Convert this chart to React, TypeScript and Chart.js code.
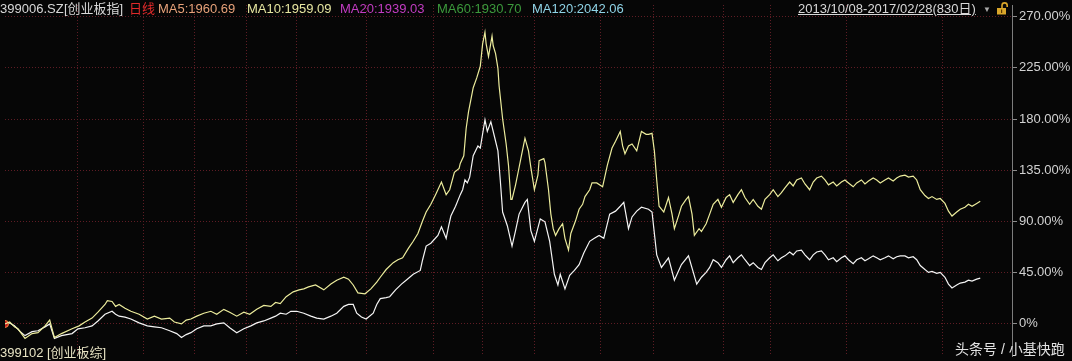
import React, { useEffect, useRef } from "react";
import { Chart, registerables } from "chart.js";

Chart.register(...registerables);

// 创业板指 399006 (white) – trading-day index and cumulative % change
const gemDays = [0,4,8,13,17,23,28,34,38,42,48,57,62,68,74,79,85,91,94,97,102,107,114,121,127,133,140,146,150,154,158,163,169,175,180,186,191,197,203,209,214,220,226,230,234,239,243,248,254,260,265,271,277,282,288,292,296,299,303,307,313,316,319,324,327,332,337,341,347,353,355,358,362,368,371,375,377,379,383,387,389,391,393,395,398,402,404,408,410,413,416,419,421,423,427,431,434,437,442,444,447,450,455,459,463,467,470,472,476,480,484,488,492,497,501,505,509,514,519,523,526,530,533,537,541,547,550,554,558,564,569,575,581,588,592,596,599,602,606,609,613,616,619,623,626,629,633,636,640,643,646,650,653,657,660,663,667,670,673,677,680,684,687,690,694,697,700,704,707,711,714,717,721,724,728,731,734,738,741,744,748,751,755,758,761,765,768,772,775,778,782,785,788,792,795,799,802,805,809,812,816,819,822,826,829];
const gemValues = [0,0.9,-1.7,-6.8,-10.3,-6.8,-6.0,-2.6,0,-12.8,-10.3,-8.5,-4.3,-3.4,-1.7,2.6,8.5,11.1,8.5,6.8,6.0,4.3,0.9,-1.7,-2.6,-3.4,-6.0,-8.5,-12.0,-9.4,-7.7,-4.3,-1.7,-1.7,0,0.9,-3.4,-7.7,-4.3,-1.7,0.9,2.6,5.1,6.8,9.4,8.5,11.1,11.1,9.4,6.8,5.1,4.3,6.8,9.4,15.4,17.1,17.1,9.4,6.0,4.3,9.4,17.1,22.2,23.1,23.9,29.9,35.0,38.4,43.6,47.0,56.4,68.4,70.9,77.8,85.4,75.2,85.4,94.8,103.4,113.6,117.9,126.5,123.9,129.0,147.8,156.4,154.6,179.4,169.2,177.7,164.9,152.1,126.5,98.3,86.3,68.4,82.0,96.5,106.8,109.4,82.0,72.6,92.3,89.7,72.6,43.6,34.2,43.6,30.8,42.7,47.0,52.1,62.4,72.6,75.2,77.8,75.2,96.5,99.1,103.4,106.8,83.7,94.0,99.1,102.5,100.8,98.3,60.7,49.6,58.1,38.4,52.1,59.8,35.0,41.0,45.3,49.6,56.4,53.8,49.6,56.4,59.8,53.8,58.1,60.7,56.4,51.3,53.8,49.6,47.8,53.8,58.1,60.7,55.5,58.1,59.8,63.2,60.7,64.1,64.9,60.7,56.4,60.7,63.2,64.1,60.7,56.4,58.1,54.7,58.1,59.8,56.4,53.0,56.4,58.1,55.5,57.2,59.8,58.1,56.4,58.1,59.8,57.2,59.0,59.8,59.8,58.1,59.0,56.4,51.3,47.8,45.3,46.1,44.4,45.3,41.0,35.0,31.6,34.2,35.9,36.7,38.4,37.6,39.3,40.2];

// 创业板综 399102 (yellow)
const compDays = [0,4,8,11,17,23,28,34,38,42,48,57,63,68,74,79,85,87,91,94,97,102,107,114,121,127,133,140,144,150,154,158,163,169,175,180,186,191,197,203,208,214,220,226,230,234,239,245,250,254,258,264,271,277,282,288,292,296,300,306,311,316,319,324,330,334,338,343,347,351,355,358,362,366,371,375,378,382,386,387,390,392,394,398,401,404,406,408,409,411,414,415,417,419,420,423,426,428,430,431,434,436,439,442,445,447,450,453,454,458,459,462,464,466,468,471,474,476,479,481,485,488,491,493,497,499,503,508,512,516,519,523,525,527,530,533,537,541,545,547,550,552,554,556,558,560,564,567,569,573,575,579,581,584,586,590,592,596,599,602,606,609,613,616,619,623,626,629,633,636,640,643,646,650,653,657,660,663,667,670,673,677,680,684,687,690,694,697,700,704,707,711,714,717,721,724,728,731,734,738,741,744,748,751,755,758,761,765,768,772,775,778,782,785,788,792,795,799,802,805,809,812,816,819,822,826,829];
const compValues = [0,1.7,-2.6,-4.3,-12.8,-8.5,-7.7,-1.7,3.4,-12.0,-8.5,-4.3,-1.7,1.7,5.1,10.3,17.1,20.5,19.7,15.4,17.1,13.7,11.1,8.5,4.3,6.8,4.3,5.1,1.7,0,3.4,4.3,6.8,9.4,11.1,8.5,12.8,10.3,6.8,10.3,8.5,12.8,16.2,15.4,18.8,17.9,23.9,28.2,29.9,30.8,32.5,34.2,29.9,35.0,38.4,41.0,39.3,34.2,27.3,26.5,30.8,36.7,41.0,47.8,53.8,56.4,58.1,66.6,72.6,79.5,90.6,98.3,105.1,113.6,124.7,113.6,117.9,133.3,136.7,141.0,147.8,171.7,186.3,207.6,216.2,226.4,246.1,256.3,246.1,235.0,252.9,244.4,237.5,224.7,209.3,180.3,158.1,139.3,109.4,109.4,122.2,132.4,147.8,163.2,152.1,137.6,117.9,130.7,143.5,145.2,141.8,117.9,96.5,83.7,77.8,83.7,88.0,75.2,64.9,79.5,90.6,100.8,105.1,111.9,117.9,123.9,123.9,120.5,139.3,154.6,160.6,169.2,156.4,149.5,156.4,158.1,152.1,169.2,166.6,166.6,167.5,152.1,126.5,103.4,100.8,98.3,111.1,96.5,83.7,96.5,103.4,109.4,111.9,96.5,77.8,83.7,81.2,88.0,96.5,105.1,109.4,102.5,111.1,113.6,106.8,113.6,117.9,111.1,105.1,109.4,103.4,100.8,109.4,113.6,117.9,111.9,115.3,119.6,124.7,121.3,126.5,128.2,123.0,117.9,124.7,128.2,129.9,126.5,122.2,124.7,121.3,124.7,126.5,123.9,120.5,123.9,126.5,123.0,125.6,128.2,126.5,123.9,126.5,128.2,125.6,128.2,129.9,130.7,129.0,129.9,126.5,117.9,112.8,110.2,111.9,109.4,110.2,105.9,99.1,94.8,98.3,100.8,102.5,105.1,103.4,105.9,107.7];

// vertical grid positions (trading-day index) and y tick values (%)
const gridDays = [62, 118, 161, 205, 248, 307, 364, 406, 450, 506, 551, 611, 651, 715, 797];
const yTicks = [0, 45, 90, 135, 180, 225, 270];

const GRID = "#5e1c24";
const FONT = "'Liberation Sans', 'Noto Sans CJK SC', sans-serif";

export default function App() {
  const ref = useRef<HTMLCanvasElement | null>(null);

  useEffect(() => {
    document.body.style.margin = "0";
    document.body.style.background = "#060606";
    const canvas = ref.current;
    if (!canvas) return;
    const bg = {
      id: "bg",
      beforeDraw(chart: any) {
        const c = chart.ctx;
        c.save();
        c.fillStyle = "#060606";
        c.fillRect(0, 0, chart.width, chart.height);
        c.restore();
      },
    };
    const chart = new Chart(canvas, {
      type: "line",
      data: {
        datasets: [
          {
            label: "399102 创业板综",
            data: compDays.map((d, i) => ({ x: d, y: compValues[i] })),
            borderColor: "#ecec9c",
            borderWidth: 1.2,
            pointRadius: 0,
            tension: 0,
          },
          {
            label: "399006 创业板指",
            data: gemDays.map((d, i) => ({ x: d, y: gemValues[i] })),
            borderColor: "#f4f4f4",
            borderWidth: 1.2,
            pointRadius: (ctx: any) => (ctx.dataIndex === 0 ? 3.5 : 0),
            pointBackgroundColor: "#c81e1e",
            pointBorderColor: "#f08a40",
            pointBorderWidth: 1,
            tension: 0,
          },
        ],
      },
      options: {
        responsive: false,
        animation: false,
        devicePixelRatio: 1,
        layout: { padding: 0 },
        plugins: { legend: { display: false }, tooltip: { enabled: false } },
        scales: {
          x: {
            type: "linear",
            min: 0,
            max: 856,
            afterBuildTicks: (s: any) => {
              s.ticks = gridDays.map((v) => ({ value: v }));
            },
            afterFit: (s: any) => {
              s.height = 0;
              s.paddingLeft = 0;
              s.paddingRight = 0;
            },
            ticks: { display: false },
            grid: { color: GRID, drawTicks: false, lineWidth: 1 },
            border: { display: false, dash: [1, 2] },
          },
          y: {
            position: "right",
            min: -28.2,
            max: 280.25,
            afterBuildTicks: (s: any) => {
              s.ticks = yTicks.map((v) => ({ value: v }));
            },
            afterFit: (s: any) => {
              s.width = 60;
              s.paddingTop = 0;
              s.paddingBottom = 0;
            },
            ticks: {
              color: "#d2d2d2",
              font: { family: FONT, size: 13 },
              padding: 2,
              autoSkip: false,
              callback: (v: any) => (Number(v) === 0 ? "0%" : Number(v).toFixed(2) + "%"),
            },
            grid: { color: GRID, tickColor: "#8c8c8c", tickLength: 5, drawTicks: true, lineWidth: 1 },
            border: { display: true, color: "#7c7c7c", width: 1, dash: [1, 2] },
          },
        },
      },
      plugins: [bg],
    } as any);
    return () => chart.destroy();
  }, []);

  const base: React.CSSProperties = {
    position: "absolute",
    fontFamily: FONT,
    fontSize: 13,
    lineHeight: "16px",
    whiteSpace: "nowrap",
    top: 1,
  };

  return (
    <div style={{ position: "relative", width: 1072, height: 361, background: "#060606", overflow: "hidden" }}>
      <canvas ref={ref} width={1072} height={361} style={{ display: "block" }} />
      <span style={{ ...base, left: 0, color: "#d8d8d8" }}>399006.SZ</span>
      <span style={{ ...base, left: 64, color: "#d8d8d8" }}>[创业板指]</span>
      <span style={{ ...base, left: 129, color: "#e02a2a" }}>日线</span>
      <span style={{ ...base, left: 158, color: "#e8a27a" }}>MA5:1960.69</span>
      <span style={{ ...base, left: 247, color: "#e6e6a0" }}>MA10:1959.09</span>
      <span style={{ ...base, left: 340, color: "#c23cc2" }}>MA20:1939.03</span>
      <span style={{ ...base, left: 437, color: "#3c9a3c" }}>MA60:1930.70</span>
      <span style={{ ...base, left: 532, color: "#8fd3e6" }}>MA120:2042.06</span>
      <span style={{ ...base, left: 798, color: "#d8d8d8", textDecoration: "underline" }}>2013/10/08-2017/02/28(830日)</span>
      <span style={{ ...base, left: 983, top: 2, fontSize: 8, color: "#a8a8a8" }}>▼</span>
      <svg style={{ position: "absolute", left: 996, top: 2 }} width={13} height={13} viewBox="0 0 13 13">
        <path d="M6 6 V3.5 a2.6 2.6 0 0 1 5.2 0 V5" fill="none" stroke="#d9a62a" strokeWidth={1.6} />
        <rect x={1} y={6} width={9} height={6.5} fill="#d9a62a" />
        <rect x={5} y={7.5} width={1.2} height={3.5} fill="#5a3a00" />
      </svg>
      <span style={{ ...base, left: 0, top: 345, color: "#e8e4c4" }}>399102 [创业板综]</span>
      <span style={{ ...base, left: 955, top: 341, fontSize: 14, color: "#e2e2e2" }}>头条号 / 小基快跑</span>
    </div>
  );
}
